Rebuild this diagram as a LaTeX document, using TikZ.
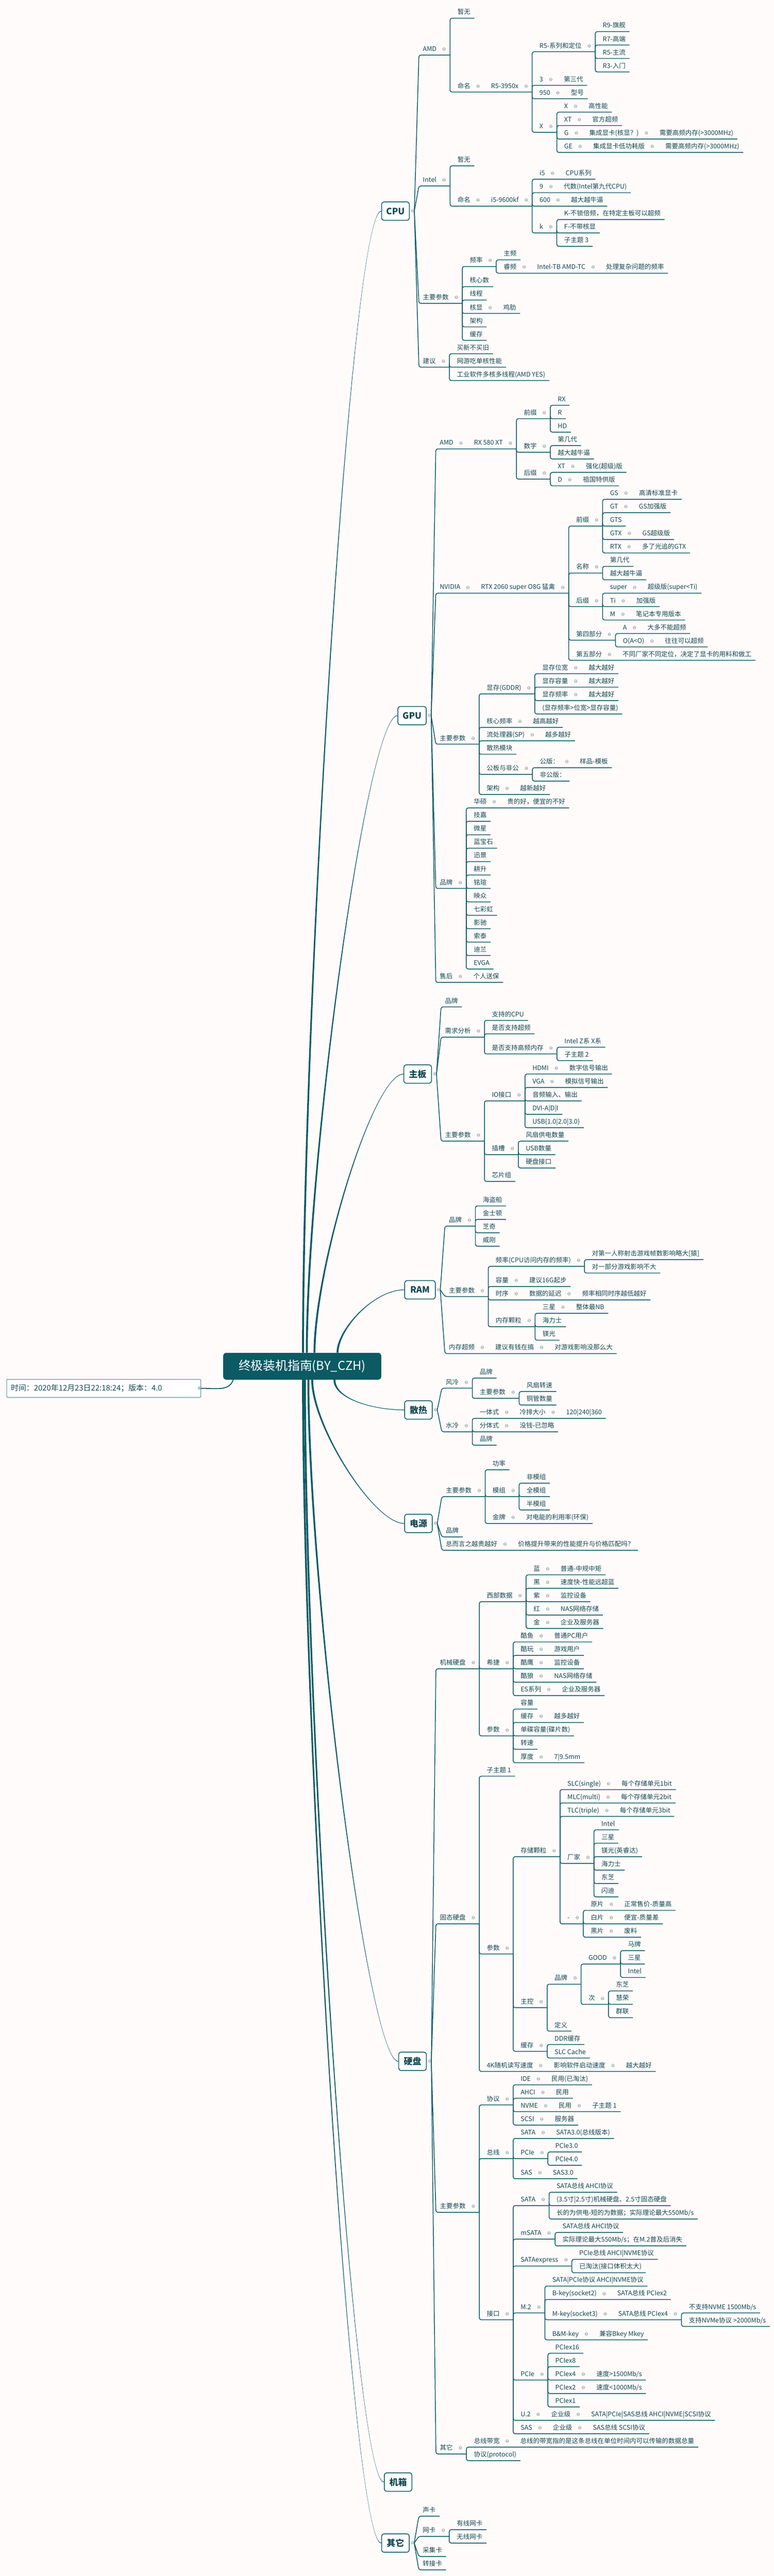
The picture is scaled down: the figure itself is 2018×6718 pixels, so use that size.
\documentclass[tikz,border=0pt]{standalone}
\usepackage{fontspec}
\setmainfont{Noto Sans CJK SC}
\newfontfamily\symfont{DejaVu Sans}
\usetikzlibrary{positioning}

\definecolor{paper}{RGB}{255,251,250}
\definecolor{ink}{RGB}{20,72,82}
\definecolor{branchcol}{RGB}{13,91,101}
\definecolor{rootcol}{RGB}{11,90,100}
\definecolor{foldcol}{RGB}{100,130,140}

\newcommand{\fold}{\hspace{7.5pt}\raisebox{0.6pt}{\symfont\fontsize{6}{6}\selectfont\color{foldcol}⊖}\hspace{-3.5pt}}

\begin{document}
\begin{tikzpicture}[x=0.5pt,y=-0.5pt,
    topicbase/.style={anchor=south west,inner xsep=5pt,inner ysep=3pt,text height=6.5pt,
      text depth=1.8pt,text=ink,font=\fontsize{8.4}{10}\selectfont},
    topic/.style={topicbase,xshift=4.5pt},
    subtopic/.style={topicbase,xshift=0.5pt},
    follow/.style={topicbase,right=4pt of #1},
    branch/.style={draw=branchcol,line width=1pt,rounded corners=2.5pt},
    mainline/.style={draw=branchcol,line width=1.2pt},
    mainfill/.style={fill=branchcol},
    mainbox/.style={rectangle,draw=branchcol,line width=1pt,rounded corners=3pt,fill=white,
      anchor=west,minimum width=36pt,minimum height=24pt,inner xsep=6pt,text=ink,
      font=\fontsize{11.4}{13}\selectfont\bfseries},
    rootbox/.style={rectangle,fill=rootcol,rounded corners=4pt,text=white,
      minimum width=206pt,minimum height=35pt,font=\fontsize{16}{18}\selectfont},
    timebox/.style={rectangle,draw=branchcol,line width=0.5pt,rounded corners=1pt,fill=white,
      anchor=west,text width=242pt,align=left,inner xsep=5.5pt,minimum height=23.5pt,
      text=ink,font=\fontsize{10}{12}\selectfont},
    foldmark/.style={text=foldcol,inner sep=0pt,font=\symfont\fontsize{6}{6}\selectfont}
  ]

  \useasboundingbox (0,0) rectangle (2018,6718);
  \fill[paper] (0,0) rectangle (2018,6718);

  % centre and the first level
  \node (root) [rootbox] at (788,3563) {终极装机指南(BY\_CZH)};
  \node (time) [timebox] at (17,3620.5) {时间：2020年12月23日22:18:24；版本：4.0};
  \node (timefold) [foldmark] at ([xshift=-2pt]time.east) {⊕};

  \node (cpu) [mainbox] at (994,550.6) {CPU};
  \node (gpu) [mainbox] at (1036.5,1866.4) {GPU};
  \node (board) [mainbox] at (1052,2801) {主板};
  \node (ram) [mainbox,minimum width=40pt] at (1054,3363.75) {RAM};
  \node (cool) [mainbox] at (1054,3677) {散热};
  \node (power) [mainbox] at (1054,3973) {电源};
  \node (disk) [mainbox] at (1038.6,5375.75) {硬盘};
  \node (case) [mainbox] at (1001,6473) {机箱};
  \node (misc) [mainbox] at (994,6632) {其它};

  \foreach \b in {cpu,gpu,board,ram,cool,power,disk,misc} {
    \node (\b-fold) [foldmark] at ([xshift=4pt]\b.east) {⊖};
    \coordinate (\b-hub) at ([xshift=11.5pt]\b.east);
  }

  \draw[mainline] ([xshift=-90pt]root.south) .. controls +(-10,30) and +(40,0) .. (time.east);
  \foreach \b/\dx/\k in {cpu/1pt/900,gpu/6pt/500,board/16pt/220,ram/46pt/60}
    \fill[mainfill] ([xshift=\dx-1.25pt]root.north) .. controls +(0,-\k) and +(-80,0) .. ([yshift=0.4pt]\b.west)
      -- ([yshift=-0.4pt]\b.west) .. controls +(-80,0) and +(0,-\k) .. ([xshift=\dx+1.25pt]root.north) -- cycle;
  \foreach \b/\dx/\k in {cool/42pt/50,power/13pt/120,disk/8pt/530,case/3.5pt/860,misc/1pt/910}
    \fill[mainfill] ([xshift=\dx-1.25pt]root.south) .. controls +(0,\k) and +(-80,0) .. ([yshift=-0.4pt]\b.west)
      -- ([yshift=0.4pt]\b.west) .. controls +(-80,0) and +(0,\k) .. ([xshift=\dx+1.25pt]root.south) -- cycle;

  % CPU
  \node (cpuamd) [subtopic] at (cpu-hub |- 0,143.75) {AMD\fold};
  \node (cpuamd0) [topic] at (cpuamd.south east |- 0,47.5) {暂无};
  \node (cpuamd1) [topic] at (cpuamd.south east |- 0,240) {命名\fold};
  \node (cpuamd1a) [follow=cpuamd1] {R5-3950x\fold};
  \node (cpur5) [topic] at (cpuamd1a.south east |- 0,135) {R5-系列和定位\fold};
  \foreach \t [count=\i from 0] in {R9-旗舰,R7-高端,R5-主流,R3-入门}
    \node (cpur5\i) [topic] at (cpur5.south east |- 0,{82.5+35*\i}) {\t};
  \node (cpugen) [topic] at (cpuamd1a.south east |- 0,222.5) {3\fold};
  \node (cpugena) [follow=cpugen] {第三代};
  \node (cpumodel) [topic] at (cpuamd1a.south east |- 0,257.5) {950\fold};
  \node (cpumodela) [follow=cpumodel] {型号};
  \node (cpusuf) [topic] at (cpuamd1a.south east |- 0,345) {X\fold};
  \node (cpusuf0) [topic] at (cpusuf.south east |- 0,292.5) {X\fold};
  \node (cpusuf0a) [follow=cpusuf0] {高性能};
  \node (cpusuf1) [topic] at (cpusuf.south east |- 0,327.5) {XT\fold};
  \node (cpusuf1a) [follow=cpusuf1] {官方超频};
  \node (cpusuf2) [topic] at (cpusuf.south east |- 0,362.5) {G\fold};
  \node (cpusuf2a) [follow=cpusuf2] {集成显卡(核显？)\fold};
  \node (cpusuf2b) [follow=cpusuf2a] {需要高频内存(>3000MHz)};
  \node (cpusuf3) [topic] at (cpusuf.south east |- 0,397.5) {GE\fold};
  \node (cpusuf3a) [follow=cpusuf3] {集成显卡低功耗版\fold};
  \node (cpusuf3b) [follow=cpusuf3a] {需要高频内存(>3000MHz)};

  \node (cpuintel) [subtopic] at (cpu-hub |- 0,485) {Intel\fold};
  \node (cpuintel0) [topic] at (cpuintel.south east |- 0,432.5) {暂无};
  \node (cpuintel1) [topic] at (cpuintel.south east |- 0,537.5) {命名\fold};
  \node (cpuintel1a) [follow=cpuintel1] {i5-9600kf\fold};
  \node (cpui5) [topic] at (cpuintel1a.south east |- 0,467.5) {i5\fold};
  \node (cpui5a) [follow=cpui5] {CPU系列};
  \node (cpu9) [topic] at (cpuintel1a.south east |- 0,502.5) {9\fold};
  \node (cpu9a) [follow=cpu9] {代数(Intel第九代CPU)};
  \node (cpu600) [topic] at (cpuintel1a.south east |- 0,537.5) {600\fold};
  \node (cpu600a) [follow=cpu600] {越大越牛逼};
  \node (cpuk) [topic] at (cpuintel1a.south east |- 0,607.5) {k\fold};
  \node (cpuk0) [topic] at (cpuk.south east |- 0,572.5) {K-不锁倍频，在特定主板可以超频};
  \node (cpuk1) [topic] at (cpuk.south east |- 0,607.5) {F-不带核显};
  \node (cpuk2) [topic] at (cpuk.south east |- 0,642.5) {子主题 3};

  \node (cpupar) [subtopic] at (cpu-hub |- 0,791.25) {主要参数\fold};
  \node (cpufreq) [topic] at (cpupar.south east |- 0,695) {频率\fold};
  \node (cpufreq0) [topic] at (cpufreq.south east |- 0,677.5) {主频};
  \node (cpufreq1) [topic] at (cpufreq.south east |- 0,712.5) {睿频\fold};
  \node (cpufreq1a) [follow=cpufreq1] {Intel-TB AMD-TC\fold};
  \node (cpufreq1b) [follow=cpufreq1a] {处理复杂问题的频率};
  \node (cpucore) [topic] at (cpupar.south east |- 0,747.5) {核心数};
  \node (cputhread) [topic] at (cpupar.south east |- 0,782.5) {线程};
  \node (cpuigpu) [topic] at (cpupar.south east |- 0,817.5) {核显\fold};
  \node (cpuigpua) [follow=cpuigpu] {鸡肋};
  \node (cpuarch) [topic] at (cpupar.south east |- 0,852.5) {架构};
  \node (cpucache) [topic] at (cpupar.south east |- 0,887.5) {缓存};

  \node (cpuadv) [subtopic] at (cpu-hub |- 0,957.5) {建议\fold};
  \foreach \t [count=\i from 0] in {买新不买旧,网游吃单核性能,工业软件多核多线程(AMD YES)}
    \node (cpuadv\i) [topic] at (cpuadv.south east |- 0,{922.5+35*\i}) {\t};

  \foreach \c in {cpuamd,cpuintel,cpupar,cpuadv}
    \draw[branch] ([xshift=6pt]cpu.east) -- (\c.south west) -- (\c.south east);
  \foreach \p/\c in {cpuamd/cpuamd0,cpuamd/cpuamd1a,cpuamd1a/cpur5,cpuamd1a/cpugena,cpuamd1a/cpumodela,
      cpuamd1a/cpusuf,cpur5/cpur50,cpur5/cpur51,cpur5/cpur52,cpur5/cpur53,cpusuf/cpusuf0a,cpusuf/cpusuf1a,
      cpusuf/cpusuf2b,cpusuf/cpusuf3b,cpuintel/cpuintel0,cpuintel/cpuintel1a,cpuintel1a/cpui5a,
      cpuintel1a/cpu9a,cpuintel1a/cpu600a,cpuintel1a/cpuk,cpuk/cpuk0,cpuk/cpuk1,cpuk/cpuk2,
      cpupar/cpufreq,cpufreq/cpufreq0,cpufreq/cpufreq1b,cpupar/cpucore,cpupar/cputhread,cpupar/cpuigpua,
      cpupar/cpuarch,cpupar/cpucache,cpuadv/cpuadv0,cpuadv/cpuadv1,cpuadv/cpuadv2}
    \draw[branch] (\p.south east) |- (\c.south east);

  % GPU
  \node (gpuamd) [subtopic] at (gpu-hub |- 0,1170.75) {AMD\fold};
  \node (gpuamda) [follow=gpuamd] {RX 580 XT\fold};
  \node (gpupre) [topic] at (gpuamda.south east |- 0,1092) {前缀\fold};
  \foreach \t [count=\i from 0] in {RX,R,HD}
    \node (gpupre\i) [topic] at (gpupre.south east |- 0,{1057+35*\i}) {\t};
  \node (gpunum) [topic] at (gpuamda.south east |- 0,1179.5) {数字\fold};
  \node (gpunum0) [topic] at (gpunum.south east |- 0,1162) {第几代};
  \node (gpunum1) [topic] at (gpunum.south east |- 0,1197) {越大越牛逼};
  \node (gpusuf) [topic] at (gpuamda.south east |- 0,1249.5) {后缀\fold};
  \node (gpusuf0) [topic] at (gpusuf.south east |- 0,1232) {XT\fold};
  \node (gpusuf0a) [follow=gpusuf0] {强化(超级)版};
  \node (gpusuf1) [topic] at (gpusuf.south east |- 0,1267) {D\fold};
  \node (gpusuf1a) [follow=gpusuf1] {祖国特供版};

  \node (gpunv) [subtopic] at (gpu-hub |- 0,1547) {NVIDIA\fold};
  \node (gpunva) [follow=gpunv] {RTX 2060 super O8G 猛禽\fold};
  \node (nvpre) [topic] at (gpunva.south east |- 0,1372) {前缀\fold};
  \node (nvpre0) [topic] at (nvpre.south east |- 0,1302) {GS\fold};
  \node (nvpre0a) [follow=nvpre0] {高清标准显卡};
  \node (nvpre1) [topic] at (nvpre.south east |- 0,1337) {GT\fold};
  \node (nvpre1a) [follow=nvpre1] {GS加强版};
  \node (nvpre2) [topic] at (nvpre.south east |- 0,1372) {GTS};
  \node (nvpre3) [topic] at (nvpre.south east |- 0,1407) {GTX\fold};
  \node (nvpre3a) [follow=nvpre3] {GS超级版};
  \node (nvpre4) [topic] at (nvpre.south east |- 0,1442) {RTX\fold};
  \node (nvpre4a) [follow=nvpre4] {多了光追的GTX};
  \node (nvname) [topic] at (gpunva.south east |- 0,1494.5) {名称\fold};
  \node (nvname0) [topic] at (nvname.south east |- 0,1477) {第几代};
  \node (nvname1) [topic] at (nvname.south east |- 0,1512) {越大越牛逼};
  \node (nvsuf) [topic] at (gpunva.south east |- 0,1582) {后缀\fold};
  \node (nvsuf0) [topic] at (nvsuf.south east |- 0,1547) {super\fold};
  \node (nvsuf0a) [follow=nvsuf0] {超级版(super<Ti)};
  \node (nvsuf1) [topic] at (nvsuf.south east |- 0,1582) {Ti\fold};
  \node (nvsuf1a) [follow=nvsuf1] {加强版};
  \node (nvsuf2) [topic] at (nvsuf.south east |- 0,1617) {M\fold};
  \node (nvsuf2a) [follow=nvsuf2] {笔记本专用版本};
  \node (nvfour) [topic] at (gpunva.south east |- 0,1669.5) {第四部分\fold};
  \node (nvfour0) [topic] at (nvfour.south east |- 0,1652) {A\fold};
  \node (nvfour0a) [follow=nvfour0] {大多不能超频};
  \node (nvfour1) [topic] at (nvfour.south east |- 0,1687) {O(A<O)\fold};
  \node (nvfour1a) [follow=nvfour1] {往往可以超频};
  \node (nvfive) [topic] at (gpunva.south east |- 0,1722) {第五部分\fold};
  \node (nvfivea) [follow=nvfive] {不同厂家不同定位，决定了显卡的用料和做工};

  \node (gpupar) [subtopic] at (gpu-hub |- 0,1940.75) {主要参数\fold};
  \node (gpumem) [topic] at (gpupar.south east |- 0,1809.5) {显存(GDDR)\fold};
  \foreach \t [count=\i from 0] in {显存位宽,显存容量,显存频率} {
    \node (gpumem\i) [topic] at (gpumem.south east |- 0,{1757+35*\i}) {\t\fold};
    \node (gpumem\i a) [follow=gpumem\i] {越大越好};
  }
  \node (gpumem3) [topic] at (gpumem.south east |- 0,1862) {(显存频率>位宽>显存容量)};
  \node (gpuclk) [topic] at (gpupar.south east |- 0,1897) {核心频率\fold};
  \node (gpuclka) [follow=gpuclk] {越高越好};
  \node (gpusp) [topic] at (gpupar.south east |- 0,1932) {流处理器(SP)\fold};
  \node (gpuspa) [follow=gpusp] {越多越好};
  \node (gpuheat) [topic] at (gpupar.south east |- 0,1967) {散热模块};
  \node (gpuref) [topic] at (gpupar.south east |- 0,2019.5) {公板与非公\fold};
  \node (gpuref0) [topic] at (gpuref.south east |- 0,2002) {公版：\fold};
  \node (gpuref0a) [follow=gpuref0] {样品-模板};
  \node (gpuref1) [topic] at (gpuref.south east |- 0,2037) {非公版：};
  \node (gpuarch) [topic] at (gpupar.south east |- 0,2072) {架构\fold};
  \node (gpuarcha) [follow=gpuarch] {越新越好};

  \node (gpubrand) [subtopic] at (gpu-hub |- 0,2317) {品牌\fold};
  \node (gpubrand0) [topic] at (gpubrand.south east |- 0,2107) {华硕\fold};
  \node (gpubrand0a) [follow=gpubrand0] {贵的好，便宜的不好};
  \foreach \t [count=\i from 1] in {技嘉,微星,蓝宝石,迅景,耕升,铭瑄,映众,七彩虹,影驰,索泰,迪兰,EVGA}
    \node (gpubrand\i) [topic] at (gpubrand.south east |- 0,{2107+35*\i}) {\t};
  \node (gpuafter) [subtopic] at (gpu-hub |- 0,2562) {售后\fold};
  \node (gpuaftera) [follow=gpuafter] {个人送保};

  \foreach \c/\e in {gpuamd/gpuamda,gpunv/gpunva,gpupar/gpupar,gpubrand/gpubrand,gpuafter/gpuaftera}
    \draw[branch] ([xshift=6pt]gpu.east) -- (\c.south west) -- (\e.south east);
  \foreach \p/\c in {gpuamda/gpupre,gpupre/gpupre0,gpupre/gpupre1,gpupre/gpupre2,gpuamda/gpunum,
      gpunum/gpunum0,gpunum/gpunum1,gpuamda/gpusuf,gpusuf/gpusuf0a,gpusuf/gpusuf1a,
      gpunva/nvpre,nvpre/nvpre0a,nvpre/nvpre1a,nvpre/nvpre2,nvpre/nvpre3a,nvpre/nvpre4a,
      gpunva/nvname,nvname/nvname0,nvname/nvname1,gpunva/nvsuf,nvsuf/nvsuf0a,nvsuf/nvsuf1a,
      nvsuf/nvsuf2a,gpunva/nvfour,nvfour/nvfour0a,nvfour/nvfour1a,gpunva/nvfivea,
      gpupar/gpumem,gpumem/gpumem0a,gpumem/gpumem1a,gpumem/gpumem2a,gpumem/gpumem3,
      gpupar/gpuclka,gpupar/gpuspa,gpupar/gpuheat,gpupar/gpuref,gpuref/gpuref0a,gpuref/gpuref1,
      gpupar/gpuarcha,gpubrand/gpubrand0a}
    \draw[branch] (\p.south east) |- (\c.south east);
  \foreach \i in {1,...,12}
    \draw[branch] (gpubrand.south east) |- (gpubrand\i.south east);

  % board
  \node (boardbrand) [subtopic] at (board-hub |- 0,2626) {品牌};
  \node (boardneed) [subtopic] at (board-hub |- 0,2704.75) {需求分析\fold};
  \node (boardneed0) [topic] at (boardneed.south east |- 0,2661) {支持的CPU};
  \node (boardneed1) [topic] at (boardneed.south east |- 0,2696) {是否支持超频};
  \node (boardneed2) [topic] at (boardneed.south east |- 0,2748.5) {是否支持高频内存\fold};
  \node (boardneed20) [topic] at (boardneed2.south east |- 0,2731) {Intel Z系 X系};
  \node (boardneed21) [topic] at (boardneed2.south east |- 0,2766) {子主题 2};
  \node (boardpar) [subtopic] at (board-hub |- 0,2976) {主要参数\fold};
  \node (boardio) [topic] at (boardpar.south east |- 0,2871) {IO接口\fold};
  \node (boardio0) [topic] at (boardio.south east |- 0,2801) {HDMI\fold};
  \node (boardio0a) [follow=boardio0] {数字信号输出};
  \node (boardio1) [topic] at (boardio.south east |- 0,2836) {VGA\fold};
  \node (boardio1a) [follow=boardio1] {模拟信号输出};
  \node (boardio2) [topic] at (boardio.south east |- 0,2871) {音频输入、输出};
  \node (boardio3) [topic] at (boardio.south east |- 0,2906) {DVI-A|D|I};
  \node (boardio4) [topic] at (boardio.south east |- 0,2941) {USB\{1.0|2.0|3.0\}};
  \node (boardslot) [topic] at (boardpar.south east |- 0,3011) {插槽\fold};
  \foreach \t [count=\i from 0] in {风扇供电数量,USB数量,硬盘接口}
    \node (boardslot\i) [topic] at (boardslot.south east |- 0,{2976+35*\i}) {\t};
  \node (boardchip) [topic] at (boardpar.south east |- 0,3081) {芯片组};

  \foreach \c in {boardbrand,boardneed,boardpar}
    \draw[branch] ([xshift=6pt]board.east) -- (\c.south west) -- (\c.south east);
  \foreach \p/\c in {boardneed/boardneed0,boardneed/boardneed1,boardneed/boardneed2,
      boardneed2/boardneed20,boardneed2/boardneed21,boardpar/boardio,boardio/boardio0a,
      boardio/boardio1a,boardio/boardio2,boardio/boardio3,boardio/boardio4,boardpar/boardslot,
      boardslot/boardslot0,boardslot/boardslot1,boardslot/boardslot2,boardpar/boardchip}
    \draw[branch] (\p.south east) |- (\c.south east);

  % RAM
  \node (rambrand) [subtopic] at (ram-hub |- 0,3197.5) {品牌\fold};
  \foreach \t [count=\i from 0] in {海盗船,金士顿,芝奇,威刚}
    \node (rambrand\i) [topic] at (rambrand.south east |- 0,{3145+35*\i}) {\t};
  \node (rampar) [subtopic] at (ram-hub |- 0,3381.25) {主要参数\fold};
  \node (ramfreq) [topic] at (rampar.south east |- 0,3302.5) {频率(CPU访问内存的频率)\fold};
  \node (ramfreq0) [topic] at (ramfreq.south east |- 0,3285) {对第一人称射击游戏帧数影响略大[猿]};
  \node (ramfreq1) [topic] at (ramfreq.south east |- 0,3320) {对一部分游戏影响不大};
  \node (ramsize) [topic] at (rampar.south east |- 0,3355) {容量\fold};
  \node (ramsizea) [follow=ramsize] {建议16G起步};
  \node (ramtime) [topic] at (rampar.south east |- 0,3390) {时序\fold};
  \node (ramtimea) [follow=ramtime] {数据的延迟\fold};
  \node (ramtimeb) [follow=ramtimea] {频率相同时序越低越好};
  \node (ramchip) [topic] at (rampar.south east |- 0,3460) {内存颗粒\fold};
  \node (ramchip0) [topic] at (ramchip.south east |- 0,3425) {三星\fold};
  \node (ramchip0a) [follow=ramchip0] {整体最NB};
  \node (ramchip1) [topic] at (ramchip.south east |- 0,3460) {海力士};
  \node (ramchip2) [topic] at (ramchip.south east |- 0,3495) {镁光};
  \node (ramoc) [subtopic] at (ram-hub |- 0,3530) {内存超频\fold};
  \node (ramoca) [follow=ramoc] {建议有钱在搞\fold};
  \node (ramocb) [follow=ramoca] {对游戏影响没那么大};

  \foreach \c/\e in {rambrand/rambrand,rampar/rampar,ramoc/ramocb}
    \draw[branch] ([xshift=6pt]ram.east) -- (\c.south west) -- (\e.south east);
  \foreach \p/\c in {rambrand/rambrand0,rambrand/rambrand1,rambrand/rambrand2,rambrand/rambrand3,
      rampar/ramfreq,ramfreq/ramfreq0,ramfreq/ramfreq1,rampar/ramsizea,rampar/ramtimeb,
      rampar/ramchip,ramchip/ramchip0a,ramchip/ramchip1,ramchip/ramchip2}
    \draw[branch] (\p.south east) |- (\c.south east);

  % cooling
  \node (coolair) [subtopic] at (cool-hub |- 0,3620.25) {风冷\fold};
  \node (coolair0) [topic] at (coolair.south east |- 0,3594) {品牌};
  \node (coolair1) [topic] at (coolair.south east |- 0,3646.5) {主要参数\fold};
  \node (coolair10) [topic] at (coolair1.south east |- 0,3629) {风扇转速};
  \node (coolair11) [topic] at (coolair1.south east |- 0,3664) {铜管数量};
  \node (coolwater) [subtopic] at (cool-hub |- 0,3734) {水冷\fold};
  \node (coolwater0) [topic] at (coolwater.south east |- 0,3699) {一体式\fold};
  \node (coolwater0a) [follow=coolwater0] {冷排大小\fold};
  \node (coolwater0b) [follow=coolwater0a] {120|240|360};
  \node (coolwater1) [topic] at (coolwater.south east |- 0,3734) {分体式\fold};
  \node (coolwater1a) [follow=coolwater1] {没钱-已忽略};
  \node (coolwater2) [topic] at (coolwater.south east |- 0,3769) {品牌};

  \foreach \c in {coolair,coolwater}
    \draw[branch] ([xshift=6pt]cool.east) -- (\c.south west) -- (\c.south east);
  \foreach \p/\c in {coolair/coolair0,coolair/coolair1,coolair1/coolair10,coolair1/coolair11,
      coolwater/coolwater0b,coolwater/coolwater1a,coolwater/coolwater2}
    \draw[branch] (\p.south east) |- (\c.south east);

  % power
  \node (powerpar) [subtopic] at (power-hub |- 0,3903) {主要参数\fold};
  \node (powerpar0) [topic] at (powerpar.south east |- 0,3833) {功率};
  \node (powermod) [topic] at (powerpar.south east |- 0,3903) {模组\fold};
  \foreach \t [count=\i from 0] in {非模组,全模组,半模组}
    \node (powermod\i) [topic] at (powermod.south east |- 0,{3868+35*\i}) {\t};
  \node (powergold) [topic] at (powerpar.south east |- 0,3973) {金牌\fold};
  \node (powergolda) [follow=powergold] {对电能的利用率(环保)};
  \node (powerbrand) [subtopic] at (power-hub |- 0,4008) {品牌};
  \node (powersum) [subtopic] at (power-hub |- 0,4043) {总而言之越贵越好\fold};
  \node (powersuma) [follow=powersum] {价格提升带来的性能提升与价格匹配吗？};

  \foreach \c/\e in {powerpar/powerpar,powerbrand/powerbrand,powersum/powersuma}
    \draw[branch] ([xshift=6pt]power.east) -- (\c.south west) -- (\e.south east);
  \foreach \p/\c in {powerpar/powerpar0,powerpar/powermod,powermod/powermod0,powermod/powermod1,
      powermod/powermod2,powerpar/powergolda}
    \draw[branch] (\p.south east) |- (\c.south east);

  % disk: hard disk
  \node (hdd) [subtopic] at (disk-hub |- 0,4352) {机械硬盘\fold};
  \node (hddwd) [topic] at (hdd.south east |- 0,4177) {西部数据\fold};
  \foreach \a/\b [count=\i from 0] in {蓝/普通-中规中矩,黑/速度快-性能远超蓝,紫/监控设备,红/NAS网络存储,金/企业及服务器} {
    \node (hddwd\i) [topic] at (hddwd.south east |- 0,{4107+35*\i}) {\a\fold};
    \node (hddwd\i a) [follow=hddwd\i] {\b};
  }
  \node (hddsg) [topic] at (hdd.south east |- 0,4352) {希捷\fold};
  \foreach \a/\b [count=\i from 0] in {酷鱼/普通PC用户,酷玩/游戏用户,酷鹰/监控设备,酷狼/NAS网络存储,ES系列/企业及服务器} {
    \node (hddsg\i) [topic] at (hddsg.south east |- 0,{4282+35*\i}) {\a\fold};
    \node (hddsg\i a) [follow=hddsg\i] {\b};
  }
  \node (hddpar) [topic] at (hdd.south east |- 0,4527) {参数\fold};
  \node (hddpar0) [topic] at (hddpar.south east |- 0,4457) {容量};
  \node (hddpar1) [topic] at (hddpar.south east |- 0,4492) {缓存\fold};
  \node (hddpar1a) [follow=hddpar1] {越多越好};
  \node (hddpar2) [topic] at (hddpar.south east |- 0,4527) {单碟容量(碟片数)};
  \node (hddpar3) [topic] at (hddpar.south east |- 0,4562) {转速};
  \node (hddpar4) [topic] at (hddpar.south east |- 0,4597) {厚度\fold};
  \node (hddpar4a) [follow=hddpar4] {7|9.5mm};

  % disk: solid state
  \node (ssd) [subtopic] at (disk-hub |- 0,5017) {固态硬盘\fold};
  \node (ssdsub) [topic] at (ssd.south east |- 0,4632) {子主题 1};
  \node (ssdpar) [topic] at (ssd.south east |- 0,5095.75) {参数\fold};
  \node (ssdnand) [topic] at (ssdpar.south east |- 0,4842) {存储颗粒\fold};
  \foreach \a/\b [count=\i from 0] in {SLC(single)/每个存储单元1bit,MLC(multi)/每个存储单元2bit,TLC(triple)/每个存储单元3bit} {
    \node (ssdnand\i) [topic] at (ssdnand.south east |- 0,{4667+35*\i}) {\a\fold};
    \node (ssdnand\i a) [follow=ssdnand\i] {\b};
  }
  \node (ssdmaker) [topic] at (ssdnand.south east |- 0,4859.5) {厂家\fold};
  \foreach \t [count=\i from 0] in {Intel,三星,镁光(英睿达),海力士,东芝,闪迪}
    \node (ssdmaker\i) [topic] at (ssdmaker.south east |- 0,{4772+35*\i}) {\t};
  \node (ssdgrade) [topic] at (ssdnand.south east |- 0,5017) {-\fold};
  \foreach \a/\b [count=\i from 0] in {原片/正常售价-质量高,白片/便宜-质量差,黑片/废料} {
    \node (ssdgrade\i) [topic] at (ssdgrade.south east |- 0,{4982+35*\i}) {\a\fold};
    \node (ssdgrade\i a) [follow=ssdgrade\i] {\b};
  }
  \node (ssdctl) [topic] at (ssdpar.south east |- 0,5235.75) {主控\fold};
  \node (ssdctlbrand) [topic] at (ssdctl.south east |- 0,5174.5) {品牌\fold};
  \node (ssdgood) [topic] at (ssdctlbrand.south east |- 0,5122) {GOOD\fold};
  \foreach \t [count=\i from 0] in {马牌,三星,Intel}
    \node (ssdgood\i) [topic] at (ssdgood.south east |- 0,{5087+35*\i}) {\t};
  \node (ssdnext) [topic] at (ssdctlbrand.south east |- 0,5227) {次\fold};
  \foreach \t [count=\i from 0] in {东芝,慧荣,群联}
    \node (ssdnext\i) [topic] at (ssdnext.south east |- 0,{5192+35*\i}) {\t};
  \node (ssddef) [topic] at (ssdctl.south east |- 0,5297) {定义};
  \node (ssdcache) [topic] at (ssdpar.south east |- 0,5349.5) {缓存\fold};
  \node (ssdcache0) [topic] at (ssdcache.south east |- 0,5332) {DDR缓存};
  \node (ssdcache1) [topic] at (ssdcache.south east |- 0,5367) {SLC Cache};
  \node (ssd4k) [topic] at (ssd.south east |- 0,5402) {4K随机读写速度\fold};
  \node (ssd4ka) [follow=ssd4k] {影响软件启动速度\fold};
  \node (ssd4kb) [follow=ssd4ka] {越大越好};

  % disk: main parameters
  \node (diskpar) [subtopic] at (disk-hub |- 0,5769.5) {主要参数\fold};
  \node (proto) [topic] at (diskpar.south east |- 0,5489.5) {协议\fold};
  \node (proto0) [topic] at (proto.south east |- 0,5437) {IDE\fold};
  \node (proto0a) [follow=proto0] {民用(已淘汰)};
  \node (proto1) [topic] at (proto.south east |- 0,5472) {AHCI\fold};
  \node (proto1a) [follow=proto1] {民用};
  \node (proto2) [topic] at (proto.south east |- 0,5507) {NVME\fold};
  \node (proto2a) [follow=proto2] {民用\fold};
  \node (proto2b) [follow=proto2a] {子主题 1};
  \node (proto3) [topic] at (proto.south east |- 0,5542) {SCSI\fold};
  \node (proto3a) [follow=proto3] {服务器};
  \node (bus) [topic] at (diskpar.south east |- 0,5629.5) {总线\fold};
  \node (bus0) [topic] at (bus.south east |- 0,5577) {SATA\fold};
  \node (bus0a) [follow=bus0] {SATA3.0(总线版本)};
  \node (bus1) [topic] at (bus.south east |- 0,5629.5) {PCIe\fold};
  \node (bus10) [topic] at (bus1.south east |- 0,5612) {PCIe3.0};
  \node (bus11) [topic] at (bus1.south east |- 0,5647) {PCIe4.0};
  \node (bus2) [topic] at (bus.south east |- 0,5682) {SAS\fold};
  \node (bus2a) [follow=bus2] {SAS3.0};
  \node (port) [topic] at (diskpar.south east |- 0,6049.5) {接口\fold};
  \node (portsata) [topic] at (port.south east |- 0,5752) {SATA\fold};
  \node (portsata0) [topic] at (portsata.south east |- 0,5717) {SATA总线 AHCI协议};
  \node (portsata1) [topic] at (portsata.south east |- 0,5752) {(3.5寸|2.5寸)机械硬盘、2.5寸固态硬盘};
  \node (portsata2) [topic] at (portsata.south east |- 0,5787) {长的为供电-短的为数据；实际理论最大550Mb/s};
  \node (portmsata) [topic] at (port.south east |- 0,5839.5) {mSATA\fold};
  \node (portmsata0) [topic] at (portmsata.south east |- 0,5822) {SATA总线 AHCI协议};
  \node (portmsata1) [topic] at (portmsata.south east |- 0,5857) {实际理论最大550Mb/s；在M.2普及后消失};
  \node (portsatae) [topic] at (port.south east |- 0,5909.5) {SATAexpress\fold};
  \node (portsatae0) [topic] at (portsatae.south east |- 0,5892) {PCIe总线 AHCI|NVME协议};
  \node (portsatae1) [topic] at (portsatae.south east |- 0,5927) {已淘汰(接口体积太大)};
  \node (portm2) [topic] at (port.south east |- 0,6032) {M.2\fold};
  \node (m20) [topic] at (portm2.south east |- 0,5962) {SATA|PCIe协议 AHCI|NVME协议};
  \node (m21) [topic] at (portm2.south east |- 0,5997) {B-key(socket2)\fold};
  \node (m21a) [follow=m21] {SATA总线 PCIex2};
  \node (m22) [topic] at (portm2.south east |- 0,6049.5) {M-key(socket3)\fold};
  \node (m22a) [follow=m22] {SATA总线 PCIex4\fold};
  \node (m220) [topic] at (m22a.south east |- 0,6032) {不支持NVME 1500Mb/s};
  \node (m221) [topic] at (m22a.south east |- 0,6067) {支持NVMe协议 >2000Mb/s};
  \node (m23) [topic] at (portm2.south east |- 0,6102) {B\&M-key\fold};
  \node (m23a) [follow=m23] {兼容Bkey Mkey};
  \node (portpcie) [topic] at (port.south east |- 0,6207) {PCIe\fold};
  \node (pcie0) [topic] at (portpcie.south east |- 0,6137) {PCIex16};
  \node (pcie1) [topic] at (portpcie.south east |- 0,6172) {PCIex8};
  \node (pcie2) [topic] at (portpcie.south east |- 0,6207) {PCIex4\fold};
  \node (pcie2a) [follow=pcie2] {速度>1500Mb/s};
  \node (pcie3) [topic] at (portpcie.south east |- 0,6242) {PCIex2\fold};
  \node (pcie3a) [follow=pcie3] {速度<1000Mb/s};
  \node (pcie4) [topic] at (portpcie.south east |- 0,6277) {PCIex1};
  \node (portu2) [topic] at (port.south east |- 0,6312) {U.2\fold};
  \node (portu2a) [follow=portu2] {企业级\fold};
  \node (portu2b) [follow=portu2a] {SATA|PCIe|SAS总线 AHCI|NVME|SCSI协议};
  \node (portsas) [topic] at (port.south east |- 0,6347) {SAS\fold};
  \node (portsasa) [follow=portsas] {企业级\fold};
  \node (portsasb) [follow=portsasa] {SAS总线 SCSI协议};
  \node (diskmisc) [subtopic] at (disk-hub |- 0,6399.5) {其它\fold};
  \node (diskmisc0) [topic] at (diskmisc.south east |- 0,6382) {总线带宽\fold};
  \node (diskmisc0a) [follow=diskmisc0] {总线的带宽指的是这条总线在单位时间内可以传输的数据总量};
  \node (diskmisc1) [topic] at (diskmisc.south east |- 0,6417) {协议(protocol)};

  \foreach \c in {hdd,ssd,diskpar,diskmisc}
    \draw[branch] ([xshift=6pt]disk.east) -- (\c.south west) -- (\c.south east);
  \foreach \p/\c in {hdd/hddwd,hdd/hddsg,hdd/hddpar,hddpar/hddpar0,hddpar/hddpar1a,hddpar/hddpar2,
      hddpar/hddpar3,hddpar/hddpar4a,ssd/ssdsub,ssd/ssdpar,ssd/ssd4kb,ssdpar/ssdnand,ssdnand/ssdmaker,
      ssdnand/ssdgrade,ssdpar/ssdctl,ssdctl/ssdctlbrand,ssdctlbrand/ssdgood,ssdctlbrand/ssdnext,
      ssdctl/ssddef,ssdpar/ssdcache,ssdcache/ssdcache0,ssdcache/ssdcache1,
      diskpar/proto,proto/proto0a,proto/proto1a,proto/proto2b,proto/proto3a,diskpar/bus,bus/bus0a,
      bus/bus1,bus1/bus10,bus1/bus11,bus/bus2a,diskpar/port,port/portsata,portsata/portsata0,
      portsata/portsata1,portsata/portsata2,port/portmsata,portmsata/portmsata0,portmsata/portmsata1,
      port/portsatae,portsatae/portsatae0,portsatae/portsatae1,port/portm2,portm2/m20,portm2/m21a,
      portm2/m22a,m22a/m220,m22a/m221,portm2/m23a,port/portpcie,portpcie/pcie0,portpcie/pcie1,
      portpcie/pcie2a,portpcie/pcie3a,portpcie/pcie4,port/portu2b,port/portsasb,
      diskmisc/diskmisc0a,diskmisc/diskmisc1}
    \draw[branch] (\p.south east) |- (\c.south east);
  \foreach \i in {0,...,4} {
    \draw[branch] (hddwd.south east) |- (hddwd\i a.south east);
    \draw[branch] (hddsg.south east) |- (hddsg\i a.south east);
  }
  \foreach \i in {0,1,2} {
    \draw[branch] (ssdnand.south east) |- (ssdnand\i a.south east);
    \draw[branch] (ssdgrade.south east) |- (ssdgrade\i a.south east);
    \draw[branch] (ssdgood.south east) |- (ssdgood\i.south east);
    \draw[branch] (ssdnext.south east) |- (ssdnext\i.south east);
  }
  \foreach \i in {0,...,5}
    \draw[branch] (ssdmaker.south east) |- (ssdmaker\i.south east);

  % others
  \node (miscsound) [subtopic] at (misc-hub |- 0,6562) {声卡};
  \node (miscnet) [subtopic] at (misc-hub |- 0,6614.5) {网卡\fold};
  \node (miscnet0) [topic] at (miscnet.south east |- 0,6597) {有线网卡};
  \node (miscnet1) [topic] at (miscnet.south east |- 0,6632) {无线网卡};
  \node (misccap) [subtopic] at (misc-hub |- 0,6667) {采集卡};
  \node (miscadapt) [subtopic] at (misc-hub |- 0,6702) {转接卡};

  \foreach \c in {miscsound,miscnet,misccap,miscadapt}
    \draw[branch] ([xshift=6pt]misc.east) -- (\c.south west) -- (\c.south east);
  \foreach \c in {miscnet0,miscnet1}
    \draw[branch] (miscnet.south east) |- (\c.south east);

\end{tikzpicture}
\end{document}
